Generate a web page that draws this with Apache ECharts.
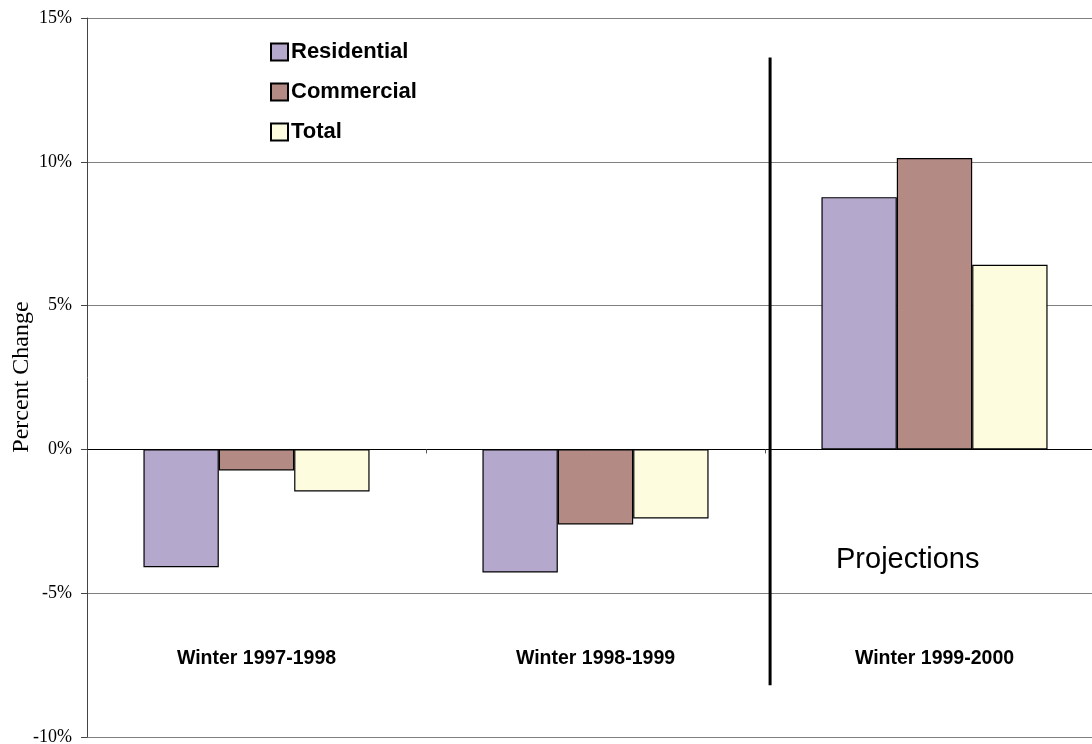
<!DOCTYPE html>
<html>
<head>
<meta charset="utf-8">
<script src="https://cdn.jsdelivr.net/npm/echarts@6/dist/echarts.min.js"></script>
<style>
  html, body { margin: 0; padding: 0; background: #ffffff; }
  #chart { width: 1092px; height: 744px; }
</style>
</head>
<body>
<div id="chart"></div>
<script>
// Winter heating demand change vs. previous winter, by sector (percent)
const categories = ['Winter 1997-1998', 'Winter 1998-1999', 'Winter 1999-2000'];
const residential = [-4.10, -4.28, 8.77];
const commercial  = [-0.73, -2.61, 10.13];
const total       = [-1.46, -2.40, 6.42];
const yTicks = { min: -10, max: 15, interval: 5 };

// Divider between history and projections, in category units along a hidden value axis
const dividerX = 2.015;
const dividerSpan = [13.63, -8.2];

const serif = '"Liberation Serif", "Times New Roman", serif';
const sans = '"Liberation Sans", Arial, sans-serif';

const chart = echarts.init(document.getElementById('chart'));

const barStyle = (color) => ({ color: color, borderColor: '#000', borderWidth: 1.2 });

chart.setOption({
  animation: false,
  backgroundColor: '#ffffff',
  grid: { left: 87, right: -12, top: 18, bottom: 7, containLabel: false, outerBoundsMode: 'none' },
  legend: {
    orient: 'vertical',
    left: 265,
    top: 36,
    itemGap: 18,
    itemWidth: 17,
    itemHeight: 17,
    icon: 'rect',
    textStyle: { fontFamily: sans, fontWeight: 'bold', fontSize: 22, color: '#000', padding: [0, 0, 0, -2] },
    data: ['Residential', 'Commercial', 'Total']
  },
  xAxis: [
    {
      // zero line with category boundary ticks
      type: 'category',
      data: categories,
      position: 'bottom',
      axisLine: { onZero: true, show: true, lineStyle: { color: '#000', width: 1 } },
      axisTick: { show: true, length: 4, lineStyle: { color: '#555' } },
      axisLabel: { show: false },
      splitLine: { show: false }
    },
    {
      type: 'value',
      min: 0,
      max: 3,
      show: false
    },
    {
      // category names, set inside the plot near the bottom
      type: 'category',
      data: categories,
      position: 'bottom',
      axisLine: { show: false, onZero: false },
      axisTick: { show: false },
      axisLabel: { inside: true, margin: 78, fontFamily: sans, fontWeight: 'bold', fontSize: 19.5, color: '#000', verticalAlign: 'middle' },
      splitLine: { show: false }
    }
  ],
  yAxis: {
    type: 'value',
    min: yTicks.min,
    max: yTicks.max,
    interval: yTicks.interval,
    axisLine: { show: true, lineStyle: { color: '#444', width: 1 } },
    axisTick: { show: true, length: 6, lineStyle: { color: '#444' } },
    axisLabel: { formatter: '{value}%', fontFamily: serif, fontSize: 18, color: '#000', margin: 15 },
    splitLine: { show: true, lineStyle: { color: '#808080', width: 1 } }
  },
  series: [
    { name: 'Residential', type: 'bar', data: residential, barGap: '0%', barCategoryGap: '33.3%', itemStyle: barStyle('#B4A9CD') },
    { name: 'Commercial', type: 'bar', data: commercial, itemStyle: barStyle('#B38A84') },
    { name: 'Total', type: 'bar', data: total, itemStyle: barStyle('#FDFCDE') },
    {
      name: 'divider',
      type: 'line',
      xAxisIndex: 1,
      data: [[dividerX, dividerSpan[0]], [dividerX, dividerSpan[1]]],
      symbol: 'none',
      lineStyle: { color: '#000', width: 3 },
      silent: true,
      z: 5
    }
  ],
  graphic: [
    {
      // value axis title
      type: 'text',
      x: 22,
      y: 377,
      rotation: Math.PI / 2,
      style: { text: 'Percent Change', font: '24px ' + serif, fill: '#000', align: 'center', verticalAlign: 'middle' }
    },
    {
      type: 'text',
      left: 836,
      top: 545,
      style: { text: 'Projections', font: '29px ' + sans, fill: '#000' }
    }
  ]
});
</script>
</body>
</html>
